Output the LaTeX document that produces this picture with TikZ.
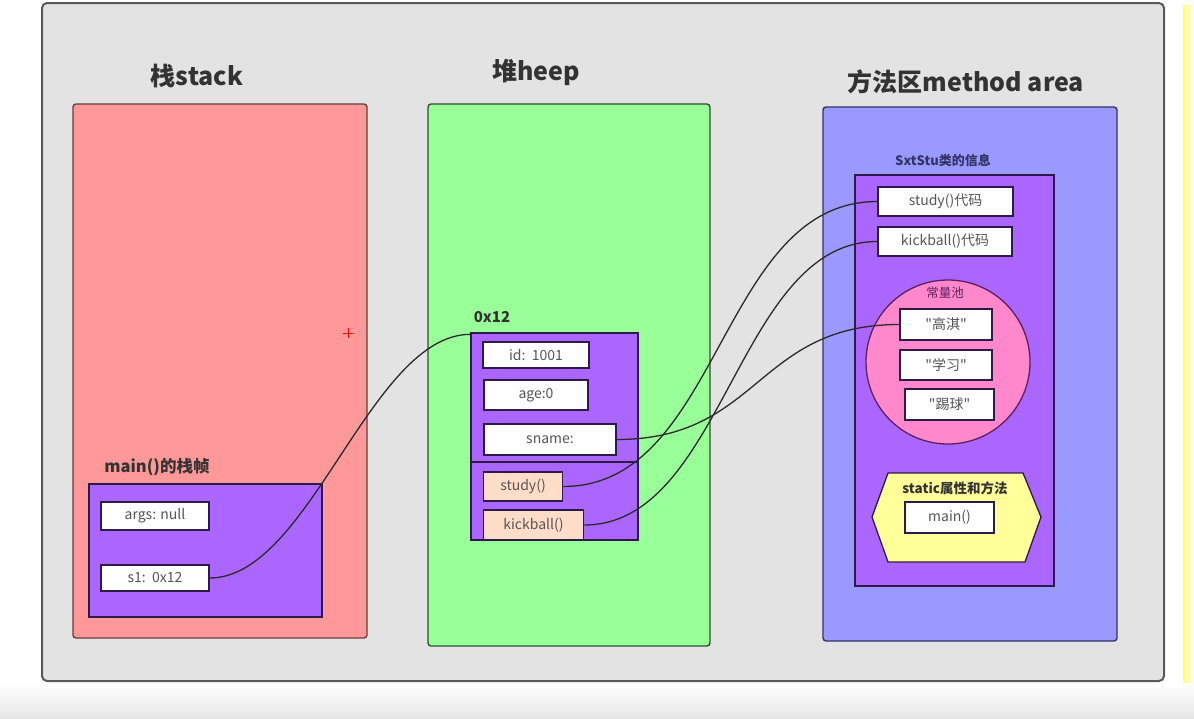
\documentclass[tikz,border=0pt]{standalone}
\usepackage{fontspec}
\newfontfamily\uifont{Noto Sans CJK SC}
\definecolor{framefill}{HTML}{E3E3E3}
\definecolor{frameline}{HTML}{5A5A5A}
\definecolor{stackfill}{HTML}{FF9999}
\definecolor{stackline}{HTML}{6B3B3B}
\definecolor{heapfill}{HTML}{99FF99}
\definecolor{heapline}{HTML}{2F4F2F}
\definecolor{methfill}{HTML}{9999FF}
\definecolor{methline}{HTML}{333366}
\definecolor{purplefill}{HTML}{AA66FF}
\definecolor{purpleline}{HTML}{2E1A4A}
\definecolor{poolfill}{HTML}{FF88CC}
\definecolor{poolline}{HTML}{5E1F5E}
\definecolor{hexfill}{HTML}{FFFF99}
\definecolor{peach}{HTML}{FFDDC8}
\definecolor{celltext}{HTML}{555555}
\definecolor{titlecol}{HTML}{333333}
\definecolor{linkcol}{HTML}{2A2A2A}
\definecolor{stripyellow}{HTML}{FFFF66}
\definecolor{floorgrey}{HTML}{E6E6E6}
\begin{document}
\begin{tikzpicture}[x=1pt,y=-1pt,
  panel/.style={line width=1.4pt, rounded corners=3pt, inner sep=0pt},
  frame/.style={draw=purpleline, fill=purplefill, line width=1.3pt, inner sep=0pt},
  cell/.style={draw=purpleline, fill=white, line width=1.5pt, inner sep=0pt,
    text=celltext, font=\uifont\fontsize{14}{14}\selectfont},
  meth/.style={cell, fill=peach},
  title/.style={font=\uifont\bfseries\fontsize{25}{25}\selectfont, text=titlecol},
  label/.style={font=\uifont\bfseries\fontsize{15}{15}\selectfont, text=titlecol},
  link/.style={draw=linkcol, line width=1.3pt}]
\useasboundingbox (0,0) rectangle (1194,718);
% page background and soft floor
\fill[white] (0,0) rectangle (1194,718);
\shade[top color=white, bottom color=floorgrey] (0,684) rectangle (1194,718);
\shade[left color=stripyellow, right color=white] (1183,5) rectangle (1193,682);
% outer window
\draw[fill=framefill, draw=frameline, line width=2pt, rounded corners=5pt] (42,3) rectangle (1164,681);

% three memory regions
\node[panel, fill=stackfill, draw=stackline, minimum width=294pt, minimum height=534pt] (stack) at (220,371) {};
\node[panel, fill=heapfill, draw=heapline, minimum width=282pt, minimum height=542pt] (heap) at (569,375) {};
\node[panel, fill=methfill, draw=methline, minimum width=294pt, minimum height=534pt] (method) at (970,374) {};
\node[title] (tstack) at (197,76) {栈stack};
\node[title] (theap) at (536,72) {堆heep};
\node[title] (tmethod) at (966,82) {方法区method area};

% stack frame of main()
\node[label, font=\uifont\bfseries\fontsize{16.5}{16.5}\selectfont] (tframe) at (157,467) {main()的栈帧};
\node[frame, minimum width=233pt, minimum height=133pt] (mframe) at (205.5,550.5) {};
\node[cell, minimum width=108pt, minimum height=28pt] (args) at (155,516) {args: null};
\node[cell, minimum width=108pt, minimum height=26pt] (s1) at (155,578) {s1:\ \ 0x12};
\draw[red, line width=1pt] (343,333) -- (353,333) (348,328) -- (348,338);

% object in the heap
\node[label] (taddr) at (492,317) {0x12};
\node[frame, minimum width=167pt, minimum height=207pt] (obj) at (554.5,436.5) {};
\node[cell, minimum width=106pt, minimum height=26pt] (id) at (536,355) {id:\ \ 1001};
\node[cell, minimum width=104pt, minimum height=30pt] (age) at (536,395) {age:0};
\node[cell, minimum width=132pt, minimum height=31pt] (sname) at (550,439.5) {sname:};
\draw[purpleline, line width=1.3pt] (obj.west |- 0,462) -- (obj.east |- 0,462);
\node[meth, minimum width=79pt, minimum height=29pt] (study) at (523,486.5) {study()};
\node[meth, minimum width=100pt, minimum height=30pt] (kick) at (533.5,525) {kickball()};

% class information in the method area
\node[font=\uifont\bfseries\fontsize{13}{13}\selectfont, text=methline] (tcls) at (943,161) {SxtStu类的信息};
\node[frame, minimum width=199pt, minimum height=411pt] (cls) at (954.5,380.5) {};
\node[cell, minimum width=135pt, minimum height=29pt] (studycode) at (945.5,201.5) {study()代码};
\node[cell, minimum width=134pt, minimum height=29pt] (kickcode) at (945,241.5) {kickball()代码};
\node[circle, draw=poolline, fill=poolfill, line width=1.3pt, minimum size=164pt, inner sep=0pt] (pool) at (948,362) {};
\node[font=\uifont\fontsize{12.5}{12.5}\selectfont, text=poolline] (tpool) at (945,293) {常量池};
\node[cell, minimum width=92pt, minimum height=31pt] (gaoqi) at (946,324.5) {"高淇"};
\node[cell, minimum width=92pt, minimum height=30pt] (xuexi) at (946,365) {"学习"};
\node[cell, minimum width=89pt, minimum height=31pt] (tiqiu) at (949.5,404.5) {"踢球"};
\draw[fill=hexfill, draw=purpleline, line width=1.3pt]
  (888,473) -- (1023,473) -- (1041,517) -- (1025,562) -- (888,562) -- (872,517) -- cycle;
\node[font=\uifont\bfseries\fontsize{13.5}{13.5}\selectfont, text=titlecol] (tstatic) at (955,488) {static属性和方法};
\node[cell, minimum width=89pt, minimum height=31pt] (mainm) at (949.5,517.5) {main()};

% references
\draw[link] (s1.east) .. controls +(100,0) and +(-100,0) .. ([yshift=-2pt]obj.north west);
\draw[link] (sname.east) .. controls +(143,0) and +(-143,0) .. (gaoqi.west);
\draw[link] (study.east) .. controls +(158,0) and +(-158,0) .. (studycode.west);
\draw[link] (kick.east) .. controls +(140,0) and +(-140,0) .. (kickcode.west);
\end{tikzpicture}
\end{document}
